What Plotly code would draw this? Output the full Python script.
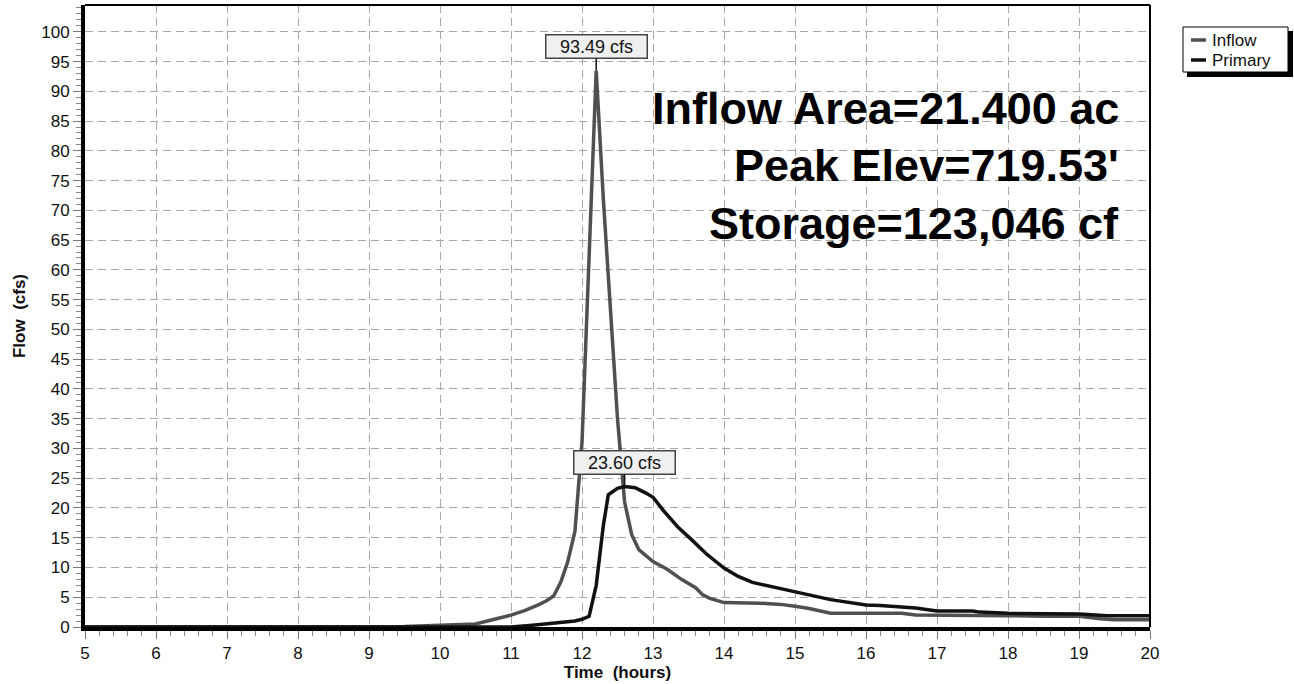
import plotly.graph_objects as go

# Hydrograph data (time in hours, flow in cfs)
inflow_t = [5.0, 9.0, 9.5, 10.0, 10.5, 11.0, 11.2, 11.4, 11.5, 11.6, 11.7, 11.8, 11.9,
            12.0, 12.1, 12.2, 12.3, 12.4, 12.5, 12.6, 12.7, 12.8, 12.9, 13.0, 13.2, 13.4,
            13.6, 13.7, 13.8, 14.0, 14.5, 14.8, 15.0, 15.2, 15.5, 16.0, 16.5, 16.7, 17.0,
            17.5, 18.0, 18.5, 19.0, 19.3, 19.5, 20.0]
inflow_q = [0.0, 0.0, 0.1, 0.3, 0.5, 2.0, 2.8, 3.8, 4.4, 5.2, 7.5, 11.0, 16.0,
            31.0, 62.0, 93.49, 72.0, 54.0, 35.0, 21.0, 15.5, 13.0, 12.0, 11.0, 9.7, 8.0,
            6.6, 5.4, 4.8, 4.1, 4.0, 3.8, 3.5, 3.1, 2.3, 2.3, 2.3, 2.0, 2.0,
            2.0, 1.9, 1.8, 1.8, 1.4, 1.2, 1.2]

primary_t = [5.0, 11.0, 11.3, 11.6, 11.9, 12.0, 12.1, 12.2, 12.3, 12.37, 12.5, 12.6,
             12.75, 12.9, 13.0, 13.15, 13.35, 13.55, 13.75, 14.0, 14.2, 14.4, 14.9,
             15.5, 16.0, 16.2, 16.7, 17.0, 17.5, 17.6, 18.0, 19.0, 19.4, 20.0]
primary_q = [0.0, 0.0, 0.3, 0.6, 1.0, 1.3, 1.8, 7.0, 17.0, 22.2, 23.3, 23.60,
             23.4, 22.5, 21.8, 19.5, 16.8, 14.6, 12.3, 9.9, 8.5, 7.5, 6.2,
             4.6, 3.7, 3.6, 3.2, 2.7, 2.7, 2.5, 2.3, 2.2, 1.9, 1.9]

series_names = ["Inflow", "Primary"]
series_colors = ["#505050", "#111111"]

summary_lines = ["Inflow Area=21.400 ac", "Peak Elev=719.53'", "Storage=123,046 cf"]

x_ticks = list(range(5, 21))
y_ticks = list(range(0, 101, 5))

FONT = "Arial, Liberation Sans, sans-serif"
W, H = 1294, 684
ML, MR, MT, MB = 85, 144, 5, 57
PW, PH = W - ML - MR, H - MT - MB


def px(x):
    return (x - ML) / PW


def py(y):
    return 1 - (y - MT) / PH


fig = go.Figure()
for t, q, name, color in zip([inflow_t, primary_t], [inflow_q, primary_q],
                             series_names, series_colors):
    fig.add_trace(go.Scatter(x=t, y=q, mode="lines", name=name, showlegend=False,
                             line=dict(color=color, width=3.5)))


# Peak labels
def peak_label(series_t, series_q, text):
    i = max(range(len(series_q)), key=lambda k: series_q[k])
    fig.add_annotation(x=series_t[i], y=series_q[i], text=text, showarrow=True,
                       arrowhead=0, arrowwidth=1.5, arrowcolor="#111111",
                       ax=0, ay=-24, bgcolor="#f0f0f0", bordercolor="#444444",
                       borderwidth=1.5, borderpad=1, width=98, height=20,
                       font=dict(family=FONT, size=18, color="#111111"))


peak_label(inflow_t, inflow_q, f"{max(inflow_q):.2f} cfs")
peak_label(primary_t, primary_q, f"{max(primary_q):.2f} cfs")

# Summary text block
for k, line in enumerate(summary_lines):
    fig.add_annotation(xref="paper", yref="paper", x=px(1121), y=py(108 + 58 * k),
                       xanchor="right", yanchor="middle", showarrow=False, text=line,
                       font=dict(family=FONT, size=45, color="#000000", weight="bold"))

# Top/right border
fig.add_shape(type="line", xref="paper", yref="paper", x0=0, x1=1, y0=1, y1=1,
              line=dict(color="#000000", width=2))
fig.add_shape(type="line", xref="paper", yref="paper", x0=1, x1=1, y0=0, y1=1,
              line=dict(color="#000000", width=2))

# Legend box with drop shadow
fig.add_shape(type="rect", xref="paper", yref="paper", x0=px(1187), x1=px(1293),
              y0=py(77), y1=py(31), fillcolor="#000000", line=dict(width=0))
fig.add_shape(type="rect", xref="paper", yref="paper", x0=px(1183), x1=px(1288),
              y0=py(72), y1=py(27), fillcolor="#ffffff",
              line=dict(color="#000000", width=1))
for k, (name, color) in enumerate(zip(series_names, series_colors)):
    yline = 40 + 20 * k
    fig.add_shape(type="line", xref="paper", yref="paper", x0=px(1191), x1=px(1206),
                  y0=py(yline), y1=py(yline), line=dict(color=color, width=3.5))
    fig.add_annotation(xref="paper", yref="paper", x=px(1210), y=py(yline + 0.5),
                       text=name, xanchor="left", yanchor="middle", showarrow=False,
                       font=dict(family=FONT, size=17, color="#111111"))

fig.update_layout(
    width=W, height=H,
    margin=dict(l=ML, r=MR, t=MT, b=MB),
    paper_bgcolor="white", plot_bgcolor="white",
    font=dict(family=FONT, color="#111111"),
    showlegend=False,
)

fig.update_xaxes(range=[5, 20], tickvals=x_ticks, ticktext=[str(v) for v in x_ticks],
                 showline=True, linecolor="#000000", linewidth=4,
                 ticks="outside", ticklen=8, tickcolor="#777777", tickwidth=1,
                 tickfont=dict(family=FONT, size=17, color="#111111"),
                 showgrid=True, gridcolor="#a8a8a8", gridwidth=1, griddash="8px,5px",
                 zeroline=False,
                 minor=dict(dtick=0.2, ticks="outside", ticklen=5, tickcolor="#888888",
                            showgrid=False),
                 title=dict(text="Time\u00a0\u00a0(hours)", standoff=3,
                            font=dict(family=FONT, size=17, color="#111111", weight="bold")))
fig.update_yaxes(range=[0, 104.5], tickvals=y_ticks, ticktext=[str(v) for v in y_ticks],
                 showline=True, linecolor="#000000", linewidth=4,
                 ticks="outside", ticklen=8, tickcolor="#777777", tickwidth=1,
                 tickfont=dict(family=FONT, size=17, color="#111111"),
                 showgrid=True, gridcolor="#a8a8a8", gridwidth=1, griddash="8px,5px",
                 zeroline=False,
                 minor=dict(dtick=1, ticks="outside", ticklen=5, tickcolor="#888888",
                            showgrid=False),
                 title=dict(text="Flow\u00a0\u00a0(cfs)", standoff=12,
                            font=dict(family=FONT, size=17, color="#111111", weight="bold")))

fig.write_html("out.html")
